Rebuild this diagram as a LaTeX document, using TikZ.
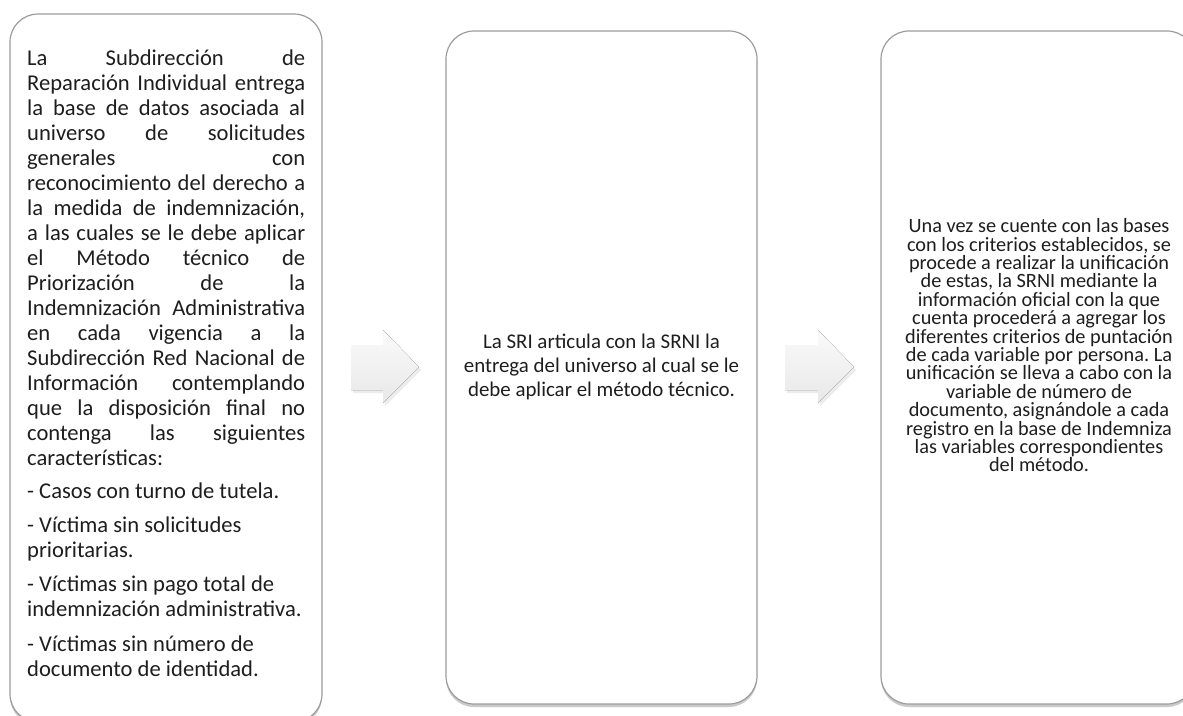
\documentclass[tikz,border=0pt]{standalone}
\usepackage{fontspec}
\setmainfont{Carlito}
\usetikzlibrary{shadows}
\definecolor{boxline}{HTML}{9C9C9C}
\definecolor{txt}{HTML}{1E1E1E}
\newcommand{\jline}[1]{\makebox[278pt][s]{\spaceskip=0pt\xspaceskip=0pt\relax #1}}
\newcommand{\natspace}{\spaceskip=\fontdimen2\font\xspaceskip=\fontdimen2\font\relax}
\frenchspacing
\begin{document}
\begin{tikzpicture}[x=1pt,y=-1pt,
  card/.style={draw=boxline, line width=1.2pt, fill=white, rounded corners=28pt,
    drop shadow={shadow xshift=0pt, shadow yshift=-3pt, opacity=0.35, fill=black!60},
    inner sep=0pt},
  blockarrow/.style={top color=gray!4, bottom color=gray!18, draw=none,
    drop shadow={shadow xshift=2pt, shadow yshift=-3pt, opacity=0.15}},
  bodytext/.style={text=txt, inner sep=0pt, anchor=base}]
\useasboundingbox (0,0) rectangle (1183,715);
\clip (0,0) rectangle (1183,715);

% boxes
\node[card, minimum width=312pt, minimum height=708pt] (b1) at (166,368) {};
\node[card, minimum width=311pt, minimum height=673pt] (b2) at (601.5,367.5) {};
\node[card, minimum width=314pt, minimum height=673pt] (b3) at (1038,367.5) {};

% block arrows
\fill[blockarrow] (351,345) -- (383,345) -- (383,330) -- (419,367) -- (383,403) -- (383,390) -- (351,390) -- cycle;
\fill[blockarrow] (785,345) -- (818,345) -- (818,330) -- (854,367) -- (818,403) -- (818,390) -- (785,390) -- cycle;

% texts
\node[bodytext, anchor=base west, text width=278pt, align=left,
      font=\fontsize{22.6}{25}\selectfont] (t1) at (27,65) {\natspace
\jline{La Subdirección de}\\
\jline{Reparación Individual entrega}\\
\jline{la base de datos asociada al}\\
\jline{universo de solicitudes}\\
\jline{generales con}\\
\jline{reconocimiento del derecho a}\\
\jline{la medida de indemnización,}\\
\jline{a las cuales se le debe aplicar}\\
\jline{el Método técnico de}\\
\jline{Priorización de la}\\
\jline{Indemnización Administrativa}\\
\jline{en cada vigencia a la}\\
\jline{Subdirección Red Nacional de}\\
\jline{Información contemplando}\\
\jline{que la disposición final no}\\
\jline{contenga las siguientes}\\
características:\\[8.5pt]
- Casos con turno de tutela.\\[8.5pt]
- Víctima sin solicitudes\\
prioritarias.\\[9.5pt]
- Víctimas sin pago total de\\
indemnización administrativa.\\[9.5pt]
- Víctimas sin número de\\
documento de identidad.};

\node[bodytext, text width=300pt, align=center,
      font=\fontsize{20.9}{24}\selectfont] (t2) at (601.5,348) {\natspace
La SRI articula con la SRNI la\\
entrega del universo al cual se le\\
debe aplicar el método técnico.};

\node[bodytext, text width=310pt, align=center,
      font=\fontsize{20.3}{18.4}\selectfont] (t3) at (1039,232.6) {\natspace
Una vez se cuente con las bases\\
con los criterios establecidos, se\\
procede a realizar la unificación\\
de estas, la SRNI mediante la\\
información oficial con la que\\
cuenta procederá a agregar los\\
diferentes criterios de puntación\\
de cada variable por persona. La\\
unificación se lleva a cabo con la\\
variable de número de\\
documento, asignándole a cada\\
registro en la base de Indemniza\\
las variables correspondientes\\
del método.};
\end{tikzpicture}
\end{document}
